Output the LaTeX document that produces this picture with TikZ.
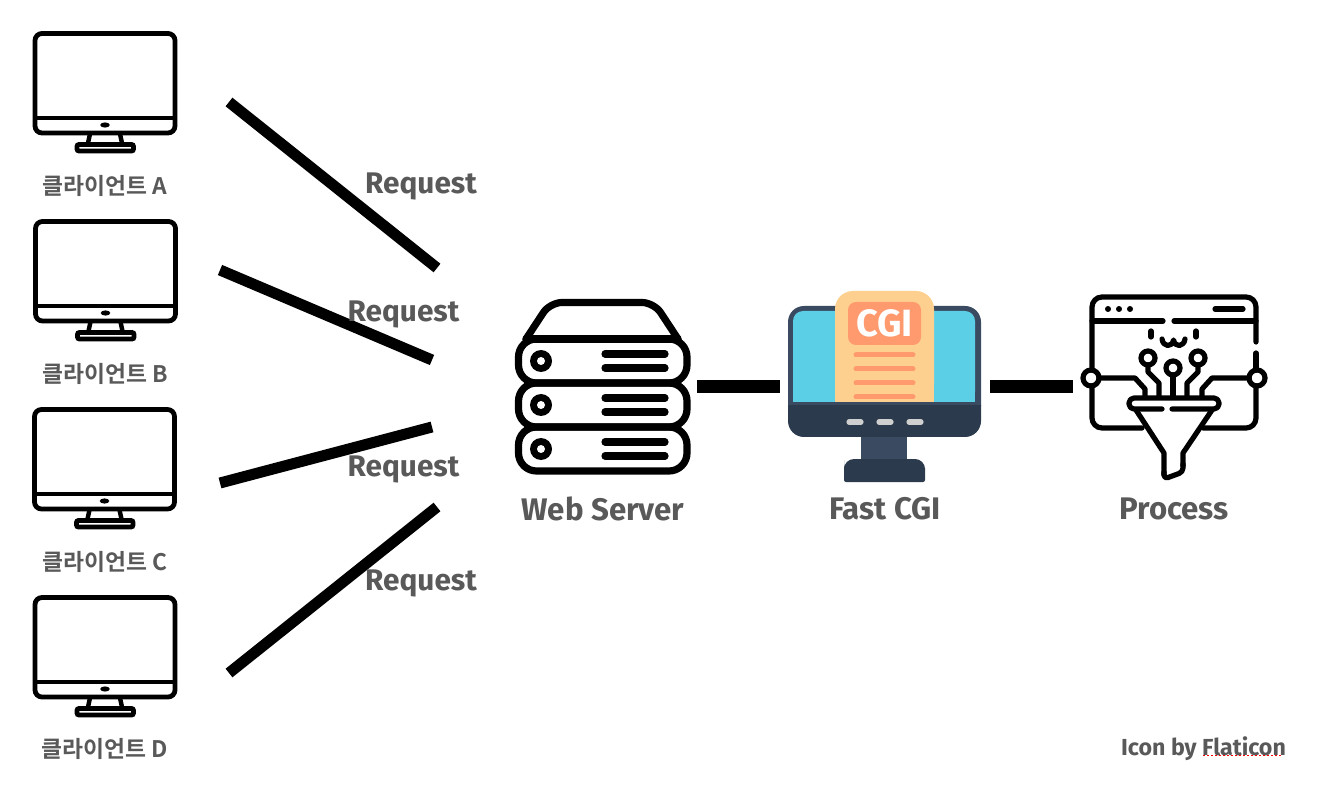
\documentclass[tikz,border=0pt]{standalone}
\usepackage{fontspec}
\setmainfont{Fira Sans}[BoldFont={Fira Sans Bold}]
\newfontfamily\krfont{Noto Sans CJK KR}[BoldFont={Noto Sans CJK KR Bold}]
\definecolor{txtgray}{HTML}{595959}
\definecolor{frameblue}{HTML}{3A4A60}
\definecolor{darkblue}{HTML}{2B3A4C}
\definecolor{screenblue}{HTML}{5BCFE5}
\definecolor{paper}{HTML}{FED08F}
\definecolor{orangeish}{HTML}{FF9A6F}
\definecolor{btn}{HTML}{CFCFCF}
\tikzset{
  x=0.5pt,y=-0.5pt,
  link/.style={line width=5.5pt,black},
  hlink/.style={line width=6.5pt,black},
  lab/.style={font=\bfseries\fontsize{14.9}{18}\selectfont,text=txtgray,inner sep=0pt,anchor=center},
  biglab/.style={font=\bfseries\fontsize{15.6}{18}\selectfont,text=txtgray,inner sep=0pt,anchor=center},
  clab/.style={font=\krfont\bfseries\fontsize{11.4}{14}\selectfont,text=txtgray,inner sep=0pt,anchor=center},
  ico/.style={line width=2.6pt,black,line cap=round,line join=round},
  srv/.style={line width=3.6pt,black,line cap=round,line join=round},
  monitor/.pic={
    \draw[line width=2.4pt,black,rounded corners=3.5pt] (35.5,33.5) rectangle (175.5,133);
    \draw[line width=2pt,black] (35.5,118) -- (175.5,118);
    \fill[black] (105.5,125) ellipse (4.8 and 2.6);
    \draw[line width=2.2pt,black] (90.5,134) -- (88.5,143);
    \draw[line width=2.2pt,black] (120.5,134) -- (122.5,143);
    \draw[line width=2.4pt,black,rounded corners=1pt] (77.5,144.5) rectangle (134,151);
  },
  serverbox/.pic={
    \draw[srv,rounded corners=9pt] (518.5,0) rectangle (687,44);
    \fill[black] (541,22) circle (11);
    \fill[white] (541,22) circle (4);
    \draw[srv] (605,15) -- (665,15);
    \draw[srv] (605,29) -- (665,29);
  }
}
\begin{document}
\begin{tikzpicture}
\useasboundingbox[fill=white] (0,0) rectangle (1326,806);

% clients
\pic at (-0.5,0) {monitor};
\pic at (0,188) {monitor};
\pic at (-1,376) {monitor};
\pic at (-0.5,564) {monitor};
\node[clab] (ca) at (105,185.5) {클라이언트 A};
\node[clab] (cb) at (105,373.5) {클라이언트 B};
\node[clab] (cc) at (105,561.5) {클라이언트 C};
\node[clab] (cd) at (105,748.5) {클라이언트 D};

% request links
\coordinate (a1) at (229,102); \coordinate (a2) at (437,268);
\coordinate (b1) at (220,270); \coordinate (b2) at (432,360);
\coordinate (c1) at (220,483); \coordinate (c2) at (432,427);
\coordinate (d1) at (229,673); \coordinate (d2) at (437,507);
\draw[link] (a1) -- (a2);
\draw[link] (b1) -- (b2);
\draw[link] (c1) -- (c2);
\draw[link] (d1) -- (d2);
\node[lab] (ra) at (421,186) {Request};
\node[lab] (rb) at (403.5,314) {Request};
\node[lab] (rc) at (403.5,469) {Request};
\node[lab] (rd) at (421,583) {Request};

% web server
\draw[srv,rounded corners=6pt] (526,339) -- (550,302.5) -- (654,302.5) -- (678,339);
\draw[srv] (526,339) -- (678,339);
\pic at (0,339) {serverbox};
\pic at (0,383) {serverbox};
\pic at (0,427) {serverbox};
\node[biglab] (web) at (603,509) {Web Server};

% fast cgi
\begin{scope}
  \clip (780,300) rectangle (990,406);
  \fill[frameblue,rounded corners=8pt] (788,306) rectangle (981,437);
\end{scope}
\fill[screenblue,rounded corners=5pt] (793,402) -- (793,311) -- (975,311) -- (975,402) [sharp corners] -- cycle;
\fill[screenblue] (793,390) rectangle (975,402);
\begin{scope}
  \clip (780,406) rectangle (990,445);
  \fill[darkblue,rounded corners=8pt] (788,380) rectangle (981,437);
\end{scope}
\fill[frameblue] (861,437) rectangle (907,462);
\fill[darkblue,rounded corners=1pt] (844,470) -- (844,482) -- (925,482) -- (925,470) [rounded corners=5pt] -- (925,459) -- (844,459) -- cycle;
\fill[paper,rounded corners=9pt] (835,402) -- (835,291) -- (934,291) -- (934,402) [sharp corners] -- cycle;
\fill[paper] (835,380) rectangle (934,402);
\fill[orangeish,rounded corners=4pt] (848,302) rectangle (921,345);
\foreach \yy in {355,369,383,397}
  \draw[line width=2.5pt,orangeish,line cap=round] (856,\yy) -- (913,\yy);
\foreach \xx in {849,879,909}
  \draw[line width=2.6pt,btn,line cap=round] (\xx,422) -- (\xx+12,422);
\node[font=\bfseries\fontsize{19}{20}\selectfont,text=white,inner sep=0pt] (cgi) at (884.5,323.5) {CGI};
\node[biglab] (fast) at (885,509) {Fast CGI};

% process
\draw[ico,rounded corners=5pt] (1092,370) -- (1092,297) -- (1256,297) -- (1256,342);
\draw[ico] (1256,353) -- (1256,370);
\draw[ico,rounded corners=5pt] (1092,386) -- (1092,428) -- (1142,428);
\draw[ico,rounded corners=5pt] (1256,386) -- (1256,428) -- (1203,428);
\draw[ico] (1092,321) -- (1163,321);
\draw[ico] (1174,321) -- (1256,321);
\foreach \xx in {1108,1119,1130} \fill[black] (\xx,309) circle (3);
\draw[ico] (1215,309) -- (1243,309);
\draw[ico] (1151,331) -- (1151,337);
\draw[ico] (1196,331) -- (1196,337);
\draw[ico] (1162,339) .. controls (1163,347) and (1172,348) .. (1173.5,340) .. controls (1175,348) and (1184,347) .. (1185,339);
\draw[ico] (1091,378) circle (8);
\draw[ico] (1257,378) circle (8);
\draw[ico] (1148,358) circle (7);
\draw[ico] (1173,368) circle (7);
\draw[ico] (1198,358) circle (7);
\draw[ico] (1148,365) -- (1148,372) -- (1159,383) -- (1159,397);
\draw[ico] (1173,375) -- (1173,397);
\draw[ico] (1198,365) -- (1198,372) -- (1187,383) -- (1187,397);
\draw[ico] (1099,378) -- (1135,378) -- (1145,389) -- (1145,397);
\draw[ico] (1249,378) -- (1212,378) -- (1202,389) -- (1202,397);
\draw[ico,rounded corners=2.5pt] (1162,409) -- (1129,409) -- (1129,398) -- (1219,398) -- (1219,409) -- (1172,409);
\draw[ico] (1136,410) -- (1164,453) -- (1164,475);
\draw[ico] (1212,410) -- (1183,453) -- (1183,466);
\draw[ico,rounded corners=2pt] (1164,472) -- (1164,479) -- (1183,472) -- (1183,464);
\node[biglab] (proc) at (1174,509) {Process};

% links between stages
\coordinate (h1) at (697,387); \coordinate (h2) at (780,387);
\coordinate (h3) at (990,387); \coordinate (h4) at (1073,387);
\draw[hlink] (h1) -- (h2);
\draw[hlink] (h3) -- (h4);

% credit
\node[font=\bfseries\fontsize{11.6}{14}\selectfont,text=txtgray,inner sep=0pt] (credit) at (1203.5,749) {Icon by Flaticon};
\draw[red,line width=0.7pt,dash pattern=on 1pt off 1pt] (1203,755.5) -- (1283,755.5);
\end{tikzpicture}
\end{document}
